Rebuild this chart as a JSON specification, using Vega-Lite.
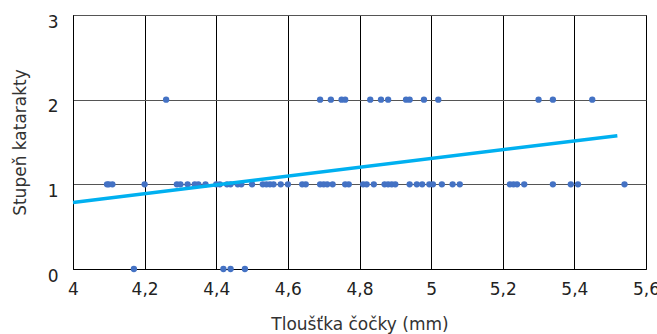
{
  "$schema": "https://vega.github.io/schema/vega-lite/v6.json",
  "width": 573,
  "height": 254,
  "autosize": {"type": "none"},
  "padding": {"left": 73, "top": 15, "right": 11, "bottom": 65},
  "background": "white",
  "config": {
    "view": {"stroke": "#000000", "strokeWidth": 1},
    "font": "DejaVu Sans"
  },
  "datasets": {
    "pts": [
      {"t": 4.17, "s": 0}, {"t": 4.42, "s": 0}, {"t": 4.44, "s": 0}, {"t": 4.48, "s": 0},
      {"t": 4.095, "s": 1}, {"t": 4.10, "s": 1}, {"t": 4.11, "s": 1}, {"t": 4.2, "s": 1},
      {"t": 4.29, "s": 1}, {"t": 4.30, "s": 1}, {"t": 4.32, "s": 1}, {"t": 4.34, "s": 1},
      {"t": 4.35, "s": 1}, {"t": 4.37, "s": 1}, {"t": 4.40, "s": 1}, {"t": 4.41, "s": 1},
      {"t": 4.43, "s": 1}, {"t": 4.44, "s": 1}, {"t": 4.46, "s": 1}, {"t": 4.47, "s": 1},
      {"t": 4.50, "s": 1}, {"t": 4.53, "s": 1}, {"t": 4.54, "s": 1}, {"t": 4.55, "s": 1},
      {"t": 4.56, "s": 1}, {"t": 4.58, "s": 1}, {"t": 4.60, "s": 1}, {"t": 4.64, "s": 1},
      {"t": 4.65, "s": 1}, {"t": 4.69, "s": 1}, {"t": 4.70, "s": 1}, {"t": 4.71, "s": 1},
      {"t": 4.725, "s": 1}, {"t": 4.76, "s": 1}, {"t": 4.77, "s": 1}, {"t": 4.81, "s": 1},
      {"t": 4.82, "s": 1}, {"t": 4.84, "s": 1}, {"t": 4.87, "s": 1}, {"t": 4.88, "s": 1},
      {"t": 4.89, "s": 1}, {"t": 4.90, "s": 1}, {"t": 4.94, "s": 1}, {"t": 4.96, "s": 1},
      {"t": 4.975, "s": 1}, {"t": 4.995, "s": 1}, {"t": 5.005, "s": 1}, {"t": 5.03, "s": 1},
      {"t": 5.06, "s": 1}, {"t": 5.08, "s": 1}, {"t": 5.22, "s": 1}, {"t": 5.23, "s": 1},
      {"t": 5.24, "s": 1}, {"t": 5.26, "s": 1}, {"t": 5.34, "s": 1}, {"t": 5.39, "s": 1},
      {"t": 5.41, "s": 1}, {"t": 5.54, "s": 1},
      {"t": 4.26, "s": 2}, {"t": 4.69, "s": 2}, {"t": 4.72, "s": 2}, {"t": 4.75, "s": 2},
      {"t": 4.76, "s": 2}, {"t": 4.83, "s": 2}, {"t": 4.86, "s": 2}, {"t": 4.88, "s": 2},
      {"t": 4.93, "s": 2}, {"t": 4.94, "s": 2}, {"t": 4.98, "s": 2}, {"t": 5.02, "s": 2},
      {"t": 5.30, "s": 2}, {"t": 5.34, "s": 2}, {"t": 5.45, "s": 2}
    ],
    "trend": [
      {"t": 4.0, "s": 0.785},
      {"t": 5.52, "s": 1.575}
    ]
  },
  "layer": [
    {
      "data": {"name": "pts"},
      "mark": {"type": "circle", "size": 40, "color": "#4472C4", "opacity": 1},
      "encoding": {
        "x": {
          "field": "t", "type": "quantitative",
          "scale": {"domain": [4, 5.6], "nice": false, "zero": false},
          "axis": {
            "title": "Tloušťka čočky (mm)",
            "values": [4, 4.2, 4.4, 4.6, 4.8, 5, 5.2, 5.4, 5.6],
            "labelExpr": "replace(format(datum.value, '~g'), '.', ',')",
            "grid": true, "gridColor": "#000000", "gridWidth": 1, "gridOpacity": 1,
            "domain": true, "domainColor": "#000000",
            "ticks": false, "labelPadding": 12,
            "labelFontSize": 17, "labelColor": "#222222", "labelFont": "DejaVu Sans",
            "labelFlush": false,
            "titleFontSize": 17, "titleFontWeight": "normal", "titleColor": "#333333",
            "titlePadding": 19, "titleFont": "DejaVu Sans"
          }
        },
        "y": {
          "field": "s", "type": "quantitative",
          "scale": {"domain": [0, 3], "nice": false},
          "axis": {
            "title": "Stupeň katarakty",
            "values": [0, 1, 2, 3],
            "format": "d",
            "grid": true, "gridColor": "#555555", "gridWidth": 1, "gridOpacity": 1,
            "domain": true, "domainColor": "#000000",
            "ticks": false, "labelPadding": 15, "labelOffset": 7,
            "labelFontSize": 17, "labelColor": "#222222", "labelFont": "DejaVu Sans",
            "labelFlush": false,
            "titleFontSize": 17, "titleFontWeight": "normal", "titleColor": "#333333",
            "titlePadding": 18, "titleFont": "DejaVu Sans"
          }
        }
      }
    },
    {
      "data": {"name": "trend"},
      "mark": {"type": "line", "color": "#00B0F0", "strokeWidth": 3.5},
      "encoding": {
        "x": {"field": "t", "type": "quantitative"},
        "y": {"field": "s", "type": "quantitative"}
      }
    }
  ]
}
